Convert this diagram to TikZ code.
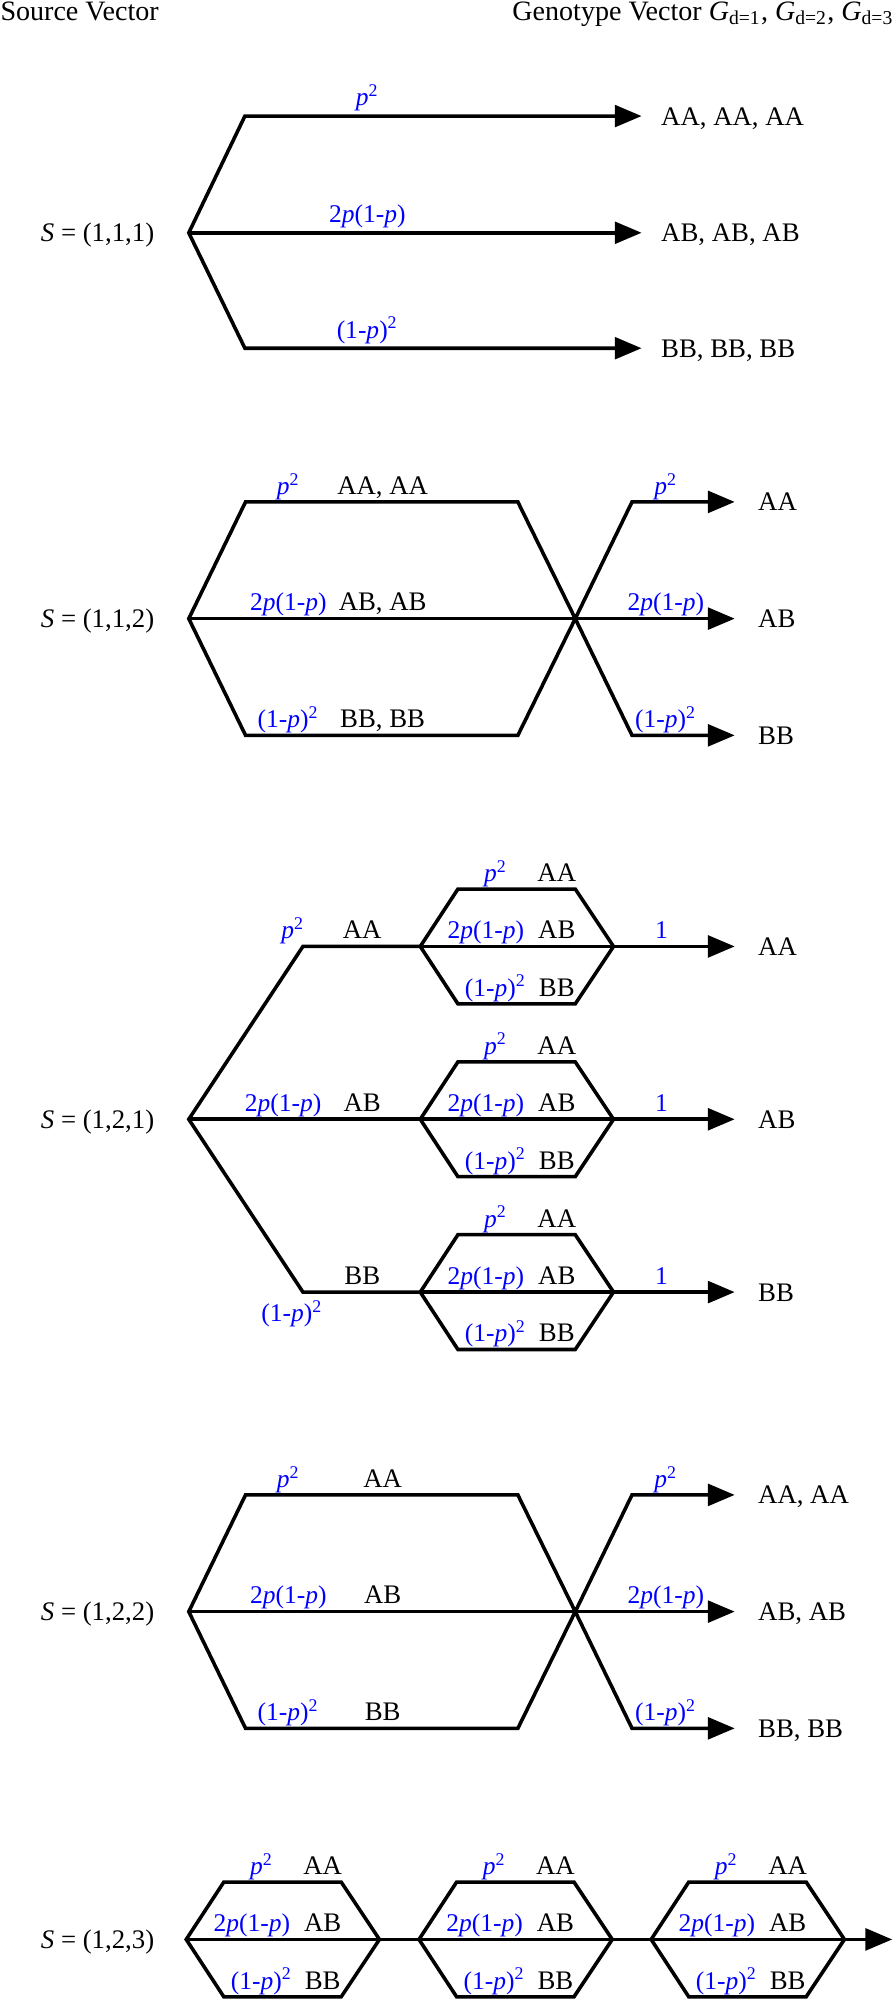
\documentclass[tikz,border=0pt]{standalone}
\usepackage{fontspec}
\setmainfont{Liberation Serif}
\usetikzlibrary{arrows.meta}
\definecolor{lblblue}{RGB}{0,0,255}
\tikzset{
  conn/.style={line width=1.4pt, black, line join=miter},
  arr/.style={conn, -{Triangle[length=10.5pt,width=8.5pt]}},
  arrtwo/.style={conn, {Triangle[length=10.5pt,width=8.5pt]}-{Triangle[length=10.5pt,width=8.5pt]}},
  hdr/.style={font=\fontsize{11}{13}\selectfont, inner sep=0pt},
  gt/.style={font=\fontsize{10.5}{12}\selectfont, inner sep=0pt, anchor=base west},
  gtc/.style={font=\fontsize{10.5}{12}\selectfont, inner sep=0pt, anchor=base},
  pr/.style={font=\fontsize{10}{12}\selectfont, text=lblblue, inner sep=0pt, anchor=base},
  src/.style={font=\fontsize{10.5}{12}\selectfont, inner sep=0pt, anchor=base},
}
\newcommand\lblPP{\textit{p}\textsuperscript{2}}
\newcommand\lblPQ{2\textit{p}(1-\textit{p})}
\newcommand\lblQQ{(1-\textit{p})\textsuperscript{2}}
% hexagon cell: #1 name prefix, #2 left x, #3 centre y
\newcommand\genhex[3]{%
  \coordinate (#1L) at (#2,#3);
  \coordinate (#1TL) at ({#2+29.5},{#3-45});
  \coordinate (#1TR) at ({#2+121.5},{#3-45});
  \coordinate (#1R) at ({#2+151.5},#3);
  \coordinate (#1BR) at ({#2+121.5},{#3+45});
  \coordinate (#1BL) at ({#2+29.5},{#3+45});
  \draw[conn] (#1L) -- (#1TL) -- (#1TR) -- (#1R) -- (#1BR) -- (#1BL) -- cycle;
  \node[pr] (#1pp) at ({#2+59},{#3-51}) {\lblPP};
  \node[gtc] (#1aa) at ({#2+107},{#3-51}) {AA};
  \node[pr] (#1pq) at ({#2+51.5},{#3-6}) {\lblPQ};
  \node[gtc] (#1ab) at ({#2+107},{#3-6}) {AB};
  \node[pr] (#1qq) at ({#2+59},{#3+39}) {\lblQQ};
  \node[gtc] (#1bb) at ({#2+107},{#3+39}) {BB};
}
\begin{document}
\begin{tikzpicture}[x=0.5pt,y=-0.5pt]
\useasboundingbox (0,0) rectangle (701,1568);
% header
\node[hdr, anchor=base west] (hsrc) at (0,16) {Source Vector};
\node[hdr, anchor=base east] (hgen) at (701,16) {Genotype Vector \textit{G}\textsubscript{d=1}, \textit{G}\textsubscript{d=2}, \textit{G}\textsubscript{d=3}};

% ---------- Section 1: S=(1,1,1)
\node[src] (s1) at (76.5,189.5) {\textit{S} = (1,1,1)};
\coordinate (a0) at (148,182.5);
\coordinate (a1) at (192,91);
\coordinate (a2) at (192,273);
\coordinate (a1e) at (503,91);
\coordinate (a0e) at (503,182.5);
\coordinate (a2e) at (503,273);
\draw[arrtwo] (a1e) -- (a1) -- (a0) -- (a2) -- (a2e);
\draw[arr] (a0) -- (a0e);
\node[pr] (a1p) at (288,83) {\lblPP};
\node[pr] (a0p) at (288,174.5) {\lblPQ};
\node[pr] (a2p) at (288,265) {\lblQQ};
\node[gt] (a1t) at (518,98) {AA, AA, AA};
\node[gt] (a0t) at (518,189.5) {AB, AB, AB};
\node[gt] (a2t) at (518,280) {BB, BB, BB};

% ---------- Section 2: S=(1,1,2)
\node[src] (s2) at (76.5,492) {\textit{S} = (1,1,2)};
\coordinate (b0) at (148,485);
\coordinate (b1) at (192.5,393.5);
\coordinate (b1r) at (406,393.5);
\coordinate (b2) at (192.5,576.5);
\coordinate (b2r) at (406,576.5);
\coordinate (bx) at (451,485);
\coordinate (b3) at (495.5,393.5);
\coordinate (b4) at (495.5,576.5);
\coordinate (b3e) at (576,393.5);
\coordinate (b0e) at (576,485);
\coordinate (b4e) at (576,576.5);
\draw[arrtwo] (b3e) -- (b3) -- (bx) -- (b2r) -- (b2) -- (b0) -- (b1) -- (b1r) -- (bx) -- (b4) -- (b4e);
\draw[arr] (b0) -- (b0e);
\node[pr] (b1p) at (226,387.5) {\lblPP};
\node[pr] (b0p) at (226,479) {\lblPQ};
\node[pr] (b2p) at (226,570.5) {\lblQQ};
\node[gtc] (b1t) at (300,387.5) {AA, AA};
\node[gtc] (b0t) at (300,479) {AB, AB};
\node[gtc] (b2t) at (300,570.5) {BB, BB};
\node[pr] (b3p) at (522,387.5) {\lblPP};
\node[pr] (b0q) at (522,479) {\lblPQ};
\node[pr] (b4p) at (522,570.5) {\lblQQ};
\node[gt] (b3t) at (594,400.5) {AA};
\node[gt] (b0r) at (594,492) {AB};
\node[gt] (b4t) at (594,583.5) {BB};

% ---------- Section 3: S=(1,2,1)
\node[src] (s3) at (76.5,884.5) {\textit{S} = (1,2,1)};
\coordinate (c0) at (148,877.5);
\coordinate (c1) at (237.5,742);
\coordinate (c2) at (237.5,1013);
\genhex{hA}{329.5}{742}
\genhex{hB}{329.5}{877.5}
\genhex{hC}{329.5}{1013}
\coordinate (c1e) at (576,742);
\coordinate (c0e) at (576,877.5);
\coordinate (c2e) at (576,1013);
\draw[conn] (hAL) -- (c1) -- (c0) -- (c2) -- (hCL);
\draw[arr] (hAL) -- (hAR) -- (c1e);
\draw[arr] (c0) -- (hBR) -- (c0e);
\draw[arr] (hCL) -- (hCR) -- (c2e);
\node[pr] (c1p) at (229.5,736) {\lblPP};
\node[gtc] (c1t) at (284,736) {AA};
\node[pr] (c0p) at (222,871.5) {\lblPQ};
\node[gtc] (c0t) at (284,871.5) {AB};
\node[gtc] (c2t) at (284,1007) {BB};
\node[pr] (c2p) at (229,1036) {\lblQQ};
\node[pr] (c1o) at (518.7,736) {1};
\node[pr] (c0o) at (518.7,871.5) {1};
\node[pr] (c2o) at (518.7,1007) {1};
\node[gt] (c1r) at (594,749) {AA};
\node[gt] (c0r) at (594,884.5) {AB};
\node[gt] (c2r) at (594,1020) {BB};

% ---------- Section 4: S=(1,2,2)
\node[src] (s4) at (76.5,1270.5) {\textit{S} = (1,2,2)};
\coordinate (d0) at (148,1263.5);
\coordinate (d1) at (192.5,1172);
\coordinate (d1r) at (406,1172);
\coordinate (d2) at (192.5,1355);
\coordinate (d2r) at (406,1355);
\coordinate (dx) at (451,1263.5);
\coordinate (d3) at (495.5,1172);
\coordinate (d4) at (495.5,1355);
\coordinate (d3e) at (576,1172);
\coordinate (d0e) at (576,1263.5);
\coordinate (d4e) at (576,1355);
\draw[arrtwo] (d3e) -- (d3) -- (dx) -- (d2r) -- (d2) -- (d0) -- (d1) -- (d1r) -- (dx) -- (d4) -- (d4e);
\draw[arr] (d0) -- (d0e);
\node[pr] (d1p) at (226,1166) {\lblPP};
\node[pr] (d0p) at (226,1257.5) {\lblPQ};
\node[pr] (d2p) at (226,1349) {\lblQQ};
\node[gtc] (d1t) at (300,1166) {AA};
\node[gtc] (d0t) at (300,1257.5) {AB};
\node[gtc] (d2t) at (300,1349) {BB};
\node[pr] (d3p) at (522,1166) {\lblPP};
\node[pr] (d0q) at (522,1257.5) {\lblPQ};
\node[pr] (d4p) at (522,1349) {\lblQQ};
\node[gt] (d3t) at (594,1179) {AA, AA};
\node[gt] (d0r) at (594,1270.5) {AB, AB};
\node[gt] (d4t) at (594,1362) {BB, BB};

% ---------- Section 5: S=(1,2,3)
\node[src] (s5) at (76.5,1527.5) {\textit{S} = (1,2,3)};
\genhex{hD}{146}{1520.5}
\genhex{hE}{328.5}{1520.5}
\genhex{hF}{510.5}{1520.5}
\coordinate (e0e) at (699.5,1520.5);
\draw[arr] (hDL) -- (hDR) -- (hEL) -- (hER) -- (hFL) -- (hFR) -- (e0e);
\end{tikzpicture}
\end{document}
